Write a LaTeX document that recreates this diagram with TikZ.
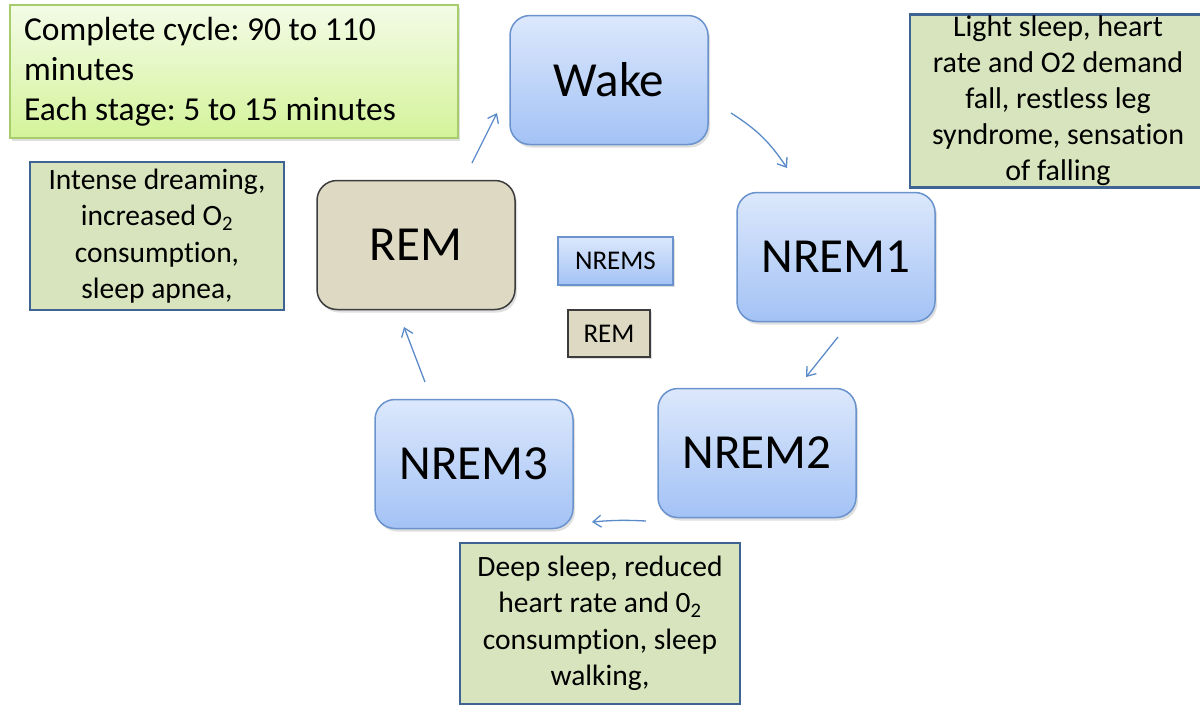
\documentclass[tikz,border=0pt]{standalone}
\usepackage{fontspec}
\setmainfont{Carlito}[Ligatures={NoCommon}]
\frenchspacing
\usetikzlibrary{arrows.meta,shadows,positioning}
\definecolor{stagetop}{HTML}{DCE8FC}
\definecolor{stagebot}{HTML}{A3C2F5}
\definecolor{stageline}{HTML}{6A93CE}
\definecolor{remfill}{HTML}{DDD9C3}
\definecolor{remline}{HTML}{3C3C3C}
\definecolor{notefill}{HTML}{D7E4BD}
\definecolor{noteline}{HTML}{3F6494}
\definecolor{cycletop}{HTML}{F3FBE6}
\definecolor{cyclebot}{HTML}{D4F39A}
\definecolor{cycleline}{HTML}{A6CC6C}
\definecolor{flow}{HTML}{5B8AC8}

\begin{document}
\begin{tikzpicture}[x=1pt,y=-1pt,
    stagebase/.style={line width=1.5pt,rounded corners=20pt,
        minimum width=198pt,minimum height=129pt,
        font=\fontsize{49}{56}\selectfont,
        drop shadow={shadow xshift=2pt,shadow yshift=-3pt,opacity=0.25}},
    stage/.style={stagebase,draw=stageline,top color=stagetop,bottom color=stagebot},
    remstage/.style={stagebase,draw=remline,fill=remfill},
    keybase/.style={line width=1.5pt,inner sep=0pt,
        font=\fontsize{27}{32}\selectfont,
        drop shadow={shadow xshift=1.5pt,shadow yshift=-2pt,opacity=0.25}},
    keynrem/.style={keybase,draw=stageline,top color=stagetop,bottom color=stagebot},
    keyrem/.style={keybase,draw=remline,fill=remfill},
    note/.style={draw=noteline,line width=2.5pt,fill=notefill,align=center,
        inner sep=0pt,font=\fontsize{29.5}{36.5}\selectfont},
    cyclebox/.style={draw=cycleline,line width=1.5pt,top color=cycletop,
        bottom color=cyclebot,align=flush left,inner xsep=14pt,
        font=\fontsize{33.5}{40}\selectfont,
        drop shadow={shadow xshift=2pt,shadow yshift=-3pt,opacity=0.25}},
    flowline/.style={draw=flow,line width=1.3pt,
        -{Straight Barb[length=8pt,width=12pt]}}]
\useasboundingbox (0,0) rectangle (1200,710);

% cycle summary
\node[cyclebox,text width=420pt,minimum height=133pt] (cycle) at (234,71.5)
    {Complete cycle: 90 to 110\\minutes\\Each stage: 5 to 15 minutes};

% sleep stages
\node[stage] (wake) at (609,80) {Wake};
\node[stage] (nrem1) at (836,257) {NREM1};
\node[stage] (nrem2) at (757,453) {NREM2};
\node[stage] (nrem3) at (474,464) {NREM3};
\node[remstage] (rem) at (416,245) {REM};

% key
\node[keynrem,minimum width=115pt,minimum height=48pt] (keynrems) at (615.5,261) {NREMS};
\node[keyrem,minimum width=82pt,minimum height=47pt] (keyremb) at (609,333.5) {REM};

% notes
\node[note,minimum width=254pt,minimum height=148pt] (remnote) at (157,236)
    {Intense dreaming,\\increased O\textsubscript{2}\\consumption,\\sleep apnea,};
\node[note,minimum width=296pt,minimum height=173pt,
    font=\fontsize{30}{36}\selectfont] (lightnote) at (1058,101)
    {Light sleep, heart\\rate and O2 demand\\fall, restless leg\\syndrome, sensation\\of falling};
\node[note,minimum width=280pt,minimum height=161pt] (deepnote) at (600,623.5)
    {Deep sleep, reduced\\heart rate and 0\textsubscript{2}\\consumption, sleep\\walking,};

% arrow ends
\coordinate (remout) at (472,163);
\coordinate (wakein) at (497,113);
\coordinate (wakeout) at (731,113);
\coordinate (nrem1in) at (787,168);
\coordinate (nrem1out) at (838,337);
\coordinate (nrem2in) at (806,377);
\coordinate (nrem2out) at (646,521);
\coordinate (nrem3in) at (592,522);
\coordinate (nrem3out) at (425,382);
\coordinate (remin) at (404,327);

\path
    (remout) edge[flowline] (wakein)
    (wakeout) edge[flowline,bend left=12] (nrem1in)
    (nrem1out) edge[flowline] (nrem2in)
    (nrem2out) edge[flowline,bend right=4] (nrem3in)
    (nrem3out) edge[flowline] (remin);
\end{tikzpicture}
\end{document}
